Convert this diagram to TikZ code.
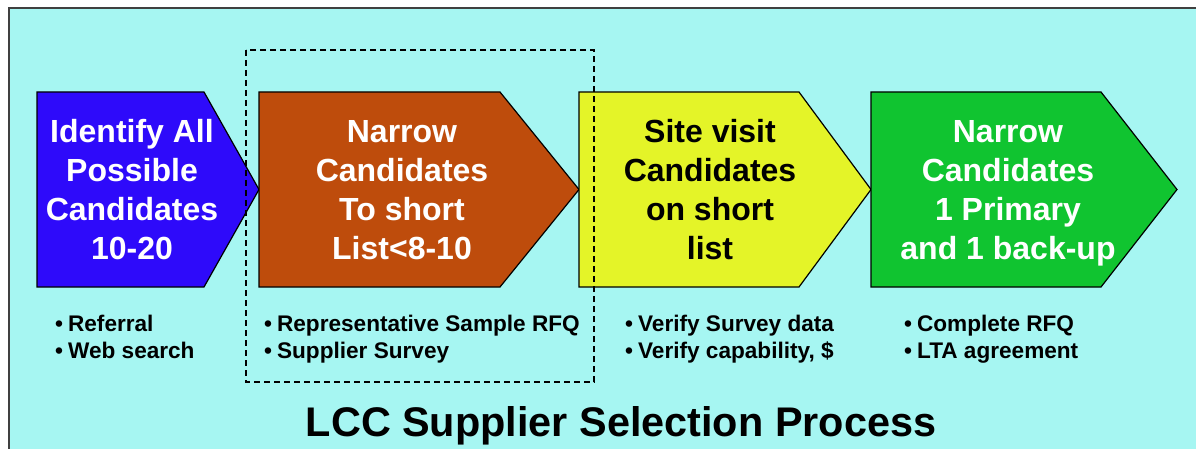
\documentclass[tikz,border=0pt]{standalone}
\usepackage{fontspec}
\setmainfont{Liberation Sans}
\definecolor{panel}{RGB}{166,246,242}
\definecolor{framegray}{RGB}{64,64,64}
\definecolor{stepblue}{RGB}{46,10,250}
\definecolor{stepbrown}{RGB}{190,76,12}
\definecolor{stepyellow}{RGB}{228,244,40}
\definecolor{stepgreen}{RGB}{16,196,48}
\tikzset{
  chevron/.style={draw=black, line width=1.2pt, line join=miter},
  steptext/.style={align=center, inner sep=0pt, anchor=base,
    font=\bfseries\fontsize{32}{39}\selectfont},
  bullets/.style={align=left, inner sep=0pt, anchor=base west,
    font=\bfseries\fontsize{22.6}{26.7}\selectfont},
  stagebox/.style={draw=black, line width=1.1pt, dash pattern=on 6pt off 4pt},
}
\newcommand{\bul}{\textbullet\hspace{5pt}}
\begin{document}
\begin{tikzpicture}[x=1pt,y=-1pt]
\useasboundingbox (0,0) rectangle (1196,449);
\clip (0,0) rectangle (1196,449);
\fill[white] (0,0) rectangle (1196,449);
% panel with its frame running off the right and bottom edges
\draw[fill=panel, draw=framegray, line width=1.6pt] (9,8) rectangle (1215,470);

% process chevrons
\draw[chevron, fill=stepblue]   (37,92)  -- (204,92)  -- (259,189.5) -- (204,287)  -- (37,287)  -- cycle;
\draw[chevron, fill=stepbrown]  (259,92) -- (500,92)  -- (579,189.5) -- (500,287)  -- (259,287) -- cycle;
\draw[chevron, fill=stepyellow] (579,92) -- (799,92)  -- (871,189.5) -- (799,287)  -- (579,287) -- cycle;
\draw[chevron, fill=stepgreen]  (871,92) -- (1101,92) -- (1177,189.5) -- (1101,287) -- (871,287) -- cycle;

% step labels (anchored at the baseline of their last line)
\node[steptext, text=white] (s1) at (132,259) {Identify All\\Possible\\Candidates\\10-20};
\node[steptext, text=white] (s2) at (402,259) {Narrow\\Candidates\\To short\ \\List<8-10};
\node[steptext, text=black] (s3) at (710,259) {Site visit\\Candidates\\on short\ \\list};
\node[steptext, text=white] (s4) at (1008,259) {Narrow\\Candidates\\1 Primary\\and 1 back-up};

% activities under each step
\node[bullets] (b1) at (55,358) {\bul Referral\\\bul Web search};
\node[bullets] (b2) at (264,358) {\bul Representative Sample RFQ\\\bul Supplier Survey};
\node[bullets] (b3) at (625,358) {\bul Verify Survey data\\\bul Verify capability, \$};
\node[bullets] (b4) at (904,358) {\bul Complete RFQ\\\bul LTA agreement};

% short-listing stage
\draw[stagebox] (246,50) rectangle (594,382);

\node[font=\bfseries\fontsize{41.4}{48}\selectfont, inner sep=0pt, anchor=base] (title) at (621,436) {LCC Supplier Selection Process};
\end{tikzpicture}
\end{document}
